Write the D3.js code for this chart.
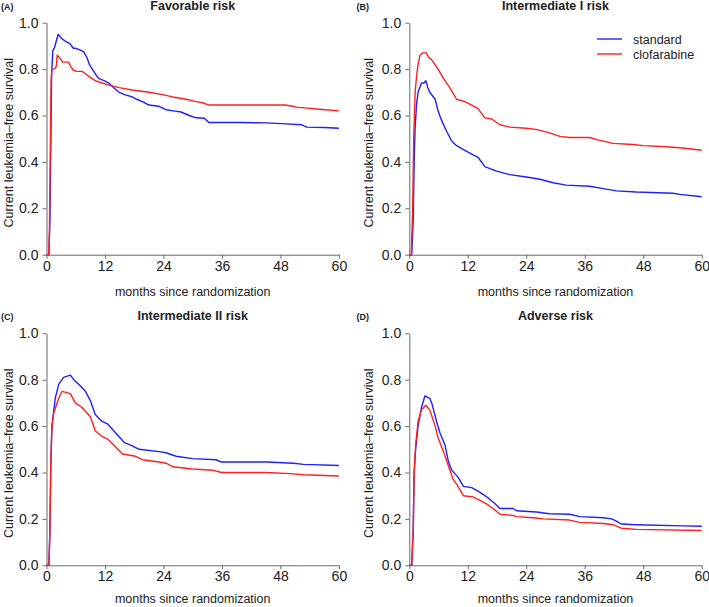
<!DOCTYPE html>
<html><head><meta charset="utf-8">
<script src="https://cdn.jsdelivr.net/npm/d3@7/dist/d3.min.js"></script>
<style>
body{margin:0;background:#fff;}
svg{display:block;font-family:"Liberation Sans",Arial,Helvetica,sans-serif;}
</style></head>
<body><svg id="chart" width="709" height="607"></svg>
<script>
// ---- data (months since randomization, current leukemia-free survival) ----
const panelLetters = ["(A)", "(B)", "(C)", "(D)"];
const panelTitles = ["Favorable risk", "Intermediate I risk", "Intermediate II risk", "Adverse risk"];
const seriesNames = ["standard", "clofarabine"];
const xTicks = [0, 12, 24, 36, 48, 60];
const yTicks = [0.0, 0.2, 0.4, 0.6, 0.8, 1.0];

const favorableStandard = [[0,0],[0.5,0],[0.7,0.15],[0.9,0.5],[1.05,0.78],[1.3,0.88],[1.6,0.89],[2.0,0.92],[2.4,0.95],[2.8,0.94],[3.2,0.93],[3.9,0.92],[4.8,0.91],[5.5,0.89],[5.9,0.89],[6.6,0.885],[7.6,0.875],[8.3,0.85],[8.8,0.82],[9.4,0.80],[10.0,0.78],[10.7,0.76],[11.8,0.75],[12.8,0.74],[13.8,0.72],[14.9,0.70],[16.0,0.69],[17.6,0.68],[18.5,0.67],[19.7,0.66],[21,0.645],[23,0.64],[24.5,0.625],[26,0.62],[27.6,0.615],[29.3,0.60],[30.7,0.59],[32.4,0.588],[33.3,0.57],[40,0.57],[45,0.568],[48.3,0.565],[52.4,0.56],[53.4,0.55],[57,0.548],[60,0.545]];
const favorableClofarabine = [[0,0],[0.45,0],[0.6,0.1],[0.8,0.5],[0.95,0.75],[1.1,0.8],[1.6,0.8],[2.0,0.81],[2.2,0.86],[2.6,0.85],[3.0,0.84],[3.3,0.83],[4.5,0.83],[5.0,0.81],[5.5,0.795],[6.2,0.79],[7.3,0.79],[8.0,0.78],[8.6,0.77],[10,0.75],[11.4,0.74],[13,0.73],[14.9,0.72],[17.6,0.71],[21,0.70],[23.8,0.69],[25.9,0.68],[28.6,0.67],[30.7,0.66],[32,0.655],[33.4,0.645],[40,0.645],[49,0.645],[50.5,0.64],[51.5,0.635],[53,0.633],[56,0.627],[60,0.62]];

const int1Standard = [[0,0],[0.5,0],[0.8,0.15],[1.0,0.4],[1.2,0.55],[1.5,0.65],[1.8,0.70],[2.5,0.74],[3.0,0.74],[3.4,0.75],[3.8,0.72],[4.2,0.70],[5.3,0.67],[5.9,0.62],[6.6,0.58],[7.7,0.53],[8.7,0.49],[9.7,0.47],[11.4,0.45],[13.1,0.43],[14.1,0.42],[15.5,0.38],[17.9,0.36],[20.6,0.345],[24,0.335],[26.8,0.325],[29.5,0.31],[32.2,0.30],[37,0.295],[39.8,0.285],[42.5,0.275],[46.6,0.27],[54.1,0.265],[55.5,0.26],[60,0.25]];
const int1Clofarabine = [[0,0],[0.4,0],[0.7,0.2],[0.9,0.5],[1.2,0.7],[1.5,0.77],[1.8,0.82],[2.2,0.86],[2.8,0.87],[3.5,0.87],[4.0,0.85],[4.6,0.84],[5.9,0.80],[7.0,0.76],[8.3,0.72],[9.7,0.67],[11.4,0.66],[12.8,0.645],[14.1,0.63],[15.5,0.59],[16.9,0.585],[18.6,0.56],[20.6,0.55],[24,0.545],[26,0.54],[28.8,0.525],[30.9,0.51],[32.9,0.505],[37,0.505],[38.7,0.495],[41.8,0.48],[45.9,0.475],[48,0.47],[52.7,0.465],[56.1,0.46],[60,0.45]];

const int2Standard = [[0,0],[0.5,0],[0.7,0.15],[0.9,0.45],[1.1,0.6],[1.8,0.72],[2.5,0.78],[3.5,0.81],[4.9,0.82],[5.6,0.80],[6.6,0.78],[8,0.75],[9,0.71],[10,0.65],[11.4,0.62],[12.5,0.61],[14.2,0.57],[15.9,0.53],[17.6,0.515],[19,0.50],[23.1,0.49],[24.5,0.485],[26.6,0.47],[30,0.46],[34.8,0.455],[35.9,0.445],[45.1,0.445],[50.7,0.44],[52.7,0.435],[60,0.43]];
const int2Clofarabine = [[0,0],[0.5,0],[0.7,0.15],[0.9,0.45],[1.1,0.58],[1.4,0.65],[2.5,0.72],[3.2,0.75],[4.9,0.74],[5.9,0.70],[7.3,0.68],[9,0.64],[10,0.58],[11.4,0.555],[12.5,0.545],[14.2,0.51],[15.6,0.48],[18.3,0.47],[19.7,0.455],[23.1,0.445],[24.5,0.44],[25.9,0.425],[30,0.415],[34.1,0.41],[35.9,0.40],[45.1,0.40],[50,0.395],[52.7,0.39],[60,0.385]];

const adverseStandard = [[0,0],[0.5,0],[0.8,0.15],[1.0,0.4],[1.3,0.5],[1.8,0.6],[2.5,0.68],[3.2,0.73],[4.2,0.72],[4.6,0.70],[5.6,0.62],[6.3,0.57],[7.3,0.52],[8,0.45],[8.7,0.41],[10,0.38],[11.1,0.34],[12.8,0.335],[14.1,0.32],[15.2,0.305],[16.5,0.285],[17.6,0.265],[18.6,0.245],[21.3,0.245],[22,0.235],[26.1,0.23],[28.8,0.222],[32.9,0.22],[35,0.21],[39.8,0.205],[41.5,0.20],[42.5,0.19],[43.5,0.178],[46.6,0.175],[56.2,0.17],[60,0.168]];
const adverseClofarabine = [[0,0],[0.5,0],[0.8,0.15],[1.0,0.4],[1.3,0.52],[1.8,0.62],[2.5,0.67],[3.4,0.69],[4.2,0.67],[5.3,0.60],[5.9,0.55],[7,0.49],[8,0.43],[9,0.37],[9.7,0.35],[11.1,0.30],[13.1,0.295],[14.5,0.28],[16.2,0.26],[17.2,0.245],[18.6,0.22],[21.3,0.215],[22,0.21],[25.4,0.205],[27.5,0.20],[32.9,0.195],[35,0.185],[39.8,0.18],[41.8,0.175],[43.5,0.16],[46.6,0.155],[60,0.15]];

const panelSeries = [
  [favorableStandard, favorableClofarabine],
  [int1Standard, int1Clofarabine],
  [int2Standard, int2Clofarabine],
  [adverseStandard, adverseClofarabine]
];

// ---- layout ----
const colors = ["#1f1fff", "#ff1f1f"];
const panelOrigins = [[46.5, 22.7], [409.3, 22.7], [46.5, 333.3], [409.3, 333.3]];
const yLabelX = [9, 369, 9, 369];
const letterX = [1, 356.5, 1, 356.5];
const xTitleOffset = [41.5, 41.5, 37.5, 37.5];
const plotW = 292.4, plotH = 232;
const svg = d3.select("#chart");
const axisColor = "#6b6b6b";
const textColor = "#222";

panelSeries.forEach((series, i) => {
  const [ox, oy] = panelOrigins[i];
  const g = svg.append("g").attr("transform", `translate(${ox},${oy})`);
  const x = d3.scaleLinear().domain([0, 60]).range([0, plotW]);
  const y = d3.scaleLinear().domain([0, 1]).range([plotH, 0]);

  const xAxis = g.append("g").attr("transform", `translate(0,${plotH})`)
    .call(d3.axisBottom(x).tickValues(xTicks).tickFormat(d3.format("d")).tickSizeOuter(0).tickSizeInner(4).tickPadding(2));
  const yAxis = g.append("g")
    .call(d3.axisLeft(y).tickValues(yTicks).tickFormat(d3.format(".1f")).tickSizeOuter(0).tickSizeInner(4).tickPadding(4));
  [xAxis, yAxis].forEach(a => {
    a.selectAll("path,line").attr("stroke", axisColor).attr("stroke-width", 1);
    a.selectAll("text").attr("fill", textColor).style("font-size", "14px")
      .style("font-family", '"Liberation Sans",Arial,sans-serif');
  });

  const line = d3.line().x(d => x(d[0])).y(d => y(d[1]));
  series.forEach((s, k) => {
    g.append("path").datum(s).attr("d", line)
      .attr("fill", "none").attr("stroke", colors[k]).attr("stroke-width", 1.4)
      .attr("stroke-linejoin", "round");
  });

  // axis titles
  g.append("text").attr("x", plotW / 2).attr("y", plotH + xTitleOffset[i])
    .attr("text-anchor", "middle").attr("fill", textColor).style("font-size", "12.5px")
    .text("months since randomization");
  svg.append("text").attr("transform", `translate(${yLabelX[i]},${oy + plotH / 2 + 4}) rotate(-90)`)
    .attr("text-anchor", "middle").attr("dy", "0.35em").attr("fill", textColor).style("font-size", "12.5px")
    .text("Current leukemia\u2013free survival");
  // panel title
  g.append("text").attr("x", plotW / 2).attr("y", -13)
    .attr("text-anchor", "middle").attr("fill", textColor).style("font-size", "12.5px").style("font-weight", "bold")
    .text(panelTitles[i]);
  svg.append("text").attr("x", letterX[i]).attr("y", oy - 13)
    .attr("fill", textColor).style("font-size", "9px").style("font-weight", "bold")
    .text(panelLetters[i]);

  // legend in panel B
  if (i === 1) {
    const lg = svg.append("g").attr("transform", "translate(597,39)");
    seriesNames.forEach((n, k) => {
      lg.append("line").attr("x1", 0).attr("x2", 25).attr("y1", k * 15).attr("y2", k * 15)
        .attr("stroke", colors[k]).attr("stroke-width", 1.4);
      lg.append("text").attr("x", 36).attr("y", k * 15 + 4.5).attr("fill", textColor)
        .style("font-size", "12.5px").text(n);
    });
  }
});
</script></body></html>
